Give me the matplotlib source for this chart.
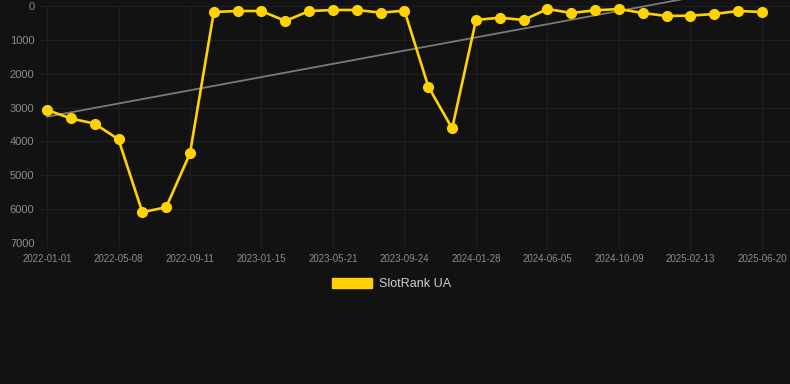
import matplotlib
matplotlib.use('Agg')
import matplotlib.pyplot as plt
from matplotlib.patches import Patch
import numpy as np

# data (rank, lower is better)
dates = ['2022-01-01', '2022-05-08', '2022-09-11', '2023-01-15', '2023-05-21',
         '2023-09-24', '2024-01-28', '2024-06-05', '2024-10-09', '2025-02-13',
         '2025-06-20']
rank = [3070, 3320, 3475, 3940, 6090, 5945, 4350,
        177, 148, 148, 443, 148, 118, 118, 197, 138,
        2383, 3613,
        413, 345, 413, 89, 207, 128, 89, 207, 295, 286, 236, 148, 177]
series_name = 'SlotRank UA'

BG = '#121212'
GOLD = '#FFD200'
GRID = '#1f1f1f'
TICK = '#8c8c8c'

plt.rcParams['font.family'] = ['Liberation Sans', 'DejaVu Sans']

W, H = 790, 384
fig = plt.figure(figsize=(W / 100, H / 100), dpi=100, facecolor=BG)
# axes box in pixels: left 40, right 790, top 6, bottom 243
ax = fig.add_axes([40 / W, 1 - 243 / H, 750 / W, 237 / H], facecolor=BG)

idx = np.arange(len(rank))
step = 23.83  # px per point
ax.set_xlim(-7 / step, len(rank) - 1 + 28 / step)
ax.set_ylim(7000, 0)

# linear trend
k, b = np.polyfit(idx, rank, 1)
ax.plot(idx, k * idx + b, color='#7a7a7a', lw=1.3, clip_on=False, zorder=2)

ax.plot(idx, rank, color=GOLD, lw=1.9, marker='o', markersize=7,
        markerfacecolor=GOLD, markeredgecolor=GOLD, clip_on=False, zorder=3)

ax.set_xticks(idx[::3])
ax.set_xticklabels(dates)
ax.set_yticks(range(0, 7001, 1000))
ax.tick_params(axis='x', colors=GRID, labelcolor=TICK, labelsize=7, length=4, pad=4)
ax.tick_params(axis='y', length=0, labelcolor=TICK, labelsize=8, pad=4)
ax.grid(True, color=GRID, lw=0.8)
for s in ax.spines.values():
    s.set_visible(False)
ax.axhline(7000, color='#292929', lw=0.8, zorder=1)

handle = Patch(facecolor=GOLD, edgecolor=GOLD)
fig.legend([handle], [series_name], loc='center', bbox_to_anchor=(392 / W, 1 - 284 / H),
           frameon=False, fontsize=9, labelcolor='#d0d0d0', handlelength=3.2,
           handleheight=0.88, handletextpad=0.56)

fig.savefig('out.png', dpi=100, facecolor=BG)
